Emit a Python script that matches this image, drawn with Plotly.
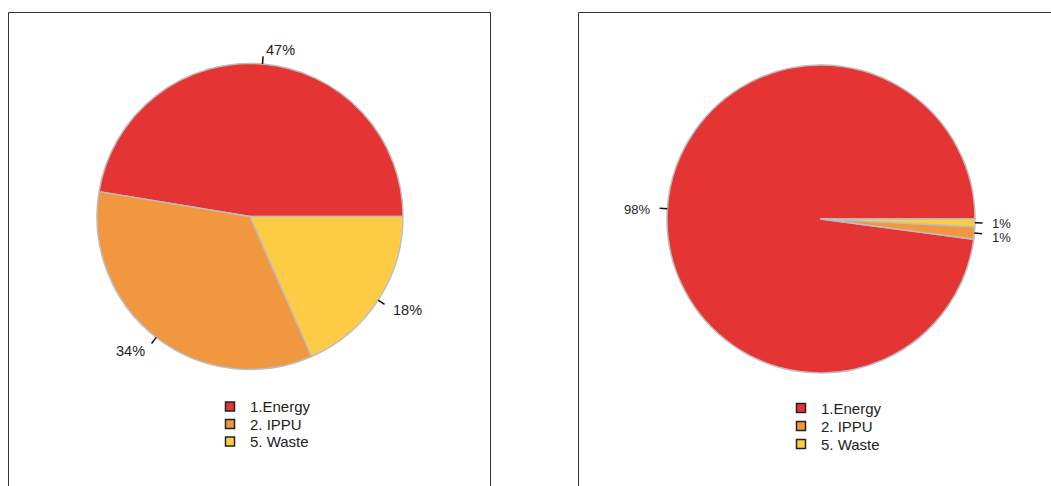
import math
import plotly.graph_objects as go

categories = ["1.Energy", "2. IPPU", "5. Waste"]
left_values = [47.4, 34.2, 18.4]
right_values = [97.9, 1.3, 0.8]
colors = ["#E53434", "#F1973F", "#FECC44"]

W, H = 1051, 486

# pie geometry in pixels (center x, center y from top, radius)
LEFT = dict(cx=250, cy=216.5, r=153, fs=14.5)
RIGHT = dict(cx=821, cy=219, r=154, fs=13)
LABEL_DY = 1.5


def px(x):
    return x / W


def py(y):
    return (H - y) / H


fig = go.Figure()


def add_pie(values, g):
    total = sum(values)
    # plotly places the first slice so that it ENDS at `rotation` when counterclockwise;
    # shift so that the first slice starts at 3 o'clock and runs counterclockwise
    rot = 90 - 360 * values[0] / total
    fig.add_trace(go.Pie(
        labels=categories,
        values=values,
        sort=False,
        direction="counterclockwise",
        rotation=rot,
        marker=dict(colors=colors, line=dict(color="#BDBDBD", width=1.5)),
        textinfo="none",
        hoverinfo="label+percent",
        showlegend=False,
        domain=dict(x=[px(g["cx"] - g["r"]), px(g["cx"] + g["r"])],
                    y=[py(g["cy"] + g["r"]), py(g["cy"] - g["r"])]),
    ))
    cum = 0.0
    labels = []
    for v in values:
        mid = (cum + v / 2) / total * 2 * math.pi
        cum += v
        c, s = math.cos(mid), math.sin(mid)
        x0, y0 = g["cx"] + g["r"] * c, g["cy"] - g["r"] * s
        x1, y1 = g["cx"] + g["r"] * 1.05 * c, g["cy"] - g["r"] * 1.05 * s
        xt, yt = g["cx"] + g["r"] * 1.1 * c, g["cy"] - g["r"] * 1.1 * s + LABEL_DY
        fig.add_shape(type="line", xref="paper", yref="paper",
                      x0=px(x0), y0=py(y0), x1=px(x1), y1=py(y1),
                      line=dict(color="#111", width=1.5))
        labels.append([xt, yt, c >= 0, f"{round(v / total * 100)}%"])
    # keep close labels on the same side apart
    min_gap = g["fs"] + 0.5
    for i in range(len(labels)):
        for j in range(i + 1, len(labels)):
            a, b = labels[i], labels[j]
            if a[2] == b[2] and abs(a[1] - b[1]) < min_gap:
                mid_y = (a[1] + b[1]) / 2
                lo, hi = (a, b) if a[1] < b[1] else (b, a)
                lo[1] = mid_y - min_gap / 2
                hi[1] = mid_y + min_gap / 2
    for xt, yt, right, txt in labels:
        fig.add_annotation(xref="paper", yref="paper", x=px(xt), y=py(yt),
                           text=txt, showarrow=False,
                           xanchor="left" if right else "right", yanchor="middle",
                           font=dict(family="Liberation Sans, Arial", size=g["fs"], color="#222"))


def add_legend(x_sq, y_first, x_text, step):
    for i, (lab, col) in enumerate(zip(categories, colors)):
        y = y_first + i * step
        fig.add_shape(type="rect", xref="paper", yref="paper",
                      x0=px(x_sq - 4.5), x1=px(x_sq + 4.5), y0=py(y + 4.5), y1=py(y - 4.5),
                      fillcolor=col, line=dict(color="#222", width=1.5))
        fig.add_annotation(xref="paper", yref="paper", x=px(x_text), y=py(y),
                           text=lab, showarrow=False, xanchor="left", yanchor="middle",
                           font=dict(family="Liberation Sans, Arial", size=15, color="#222"))


add_pie(left_values, LEFT)
add_pie(right_values, RIGHT)
add_legend(230, 406.5, 248, 17.5)
add_legend(801, 408, 819, 18)

# panel borders
border = dict(color="#333", width=1)
for x0, y0, x1, y1 in [(8.5, 12.5, 490.5, 12.5), (8.5, 12.5, 8.5, 520), (490.5, 12.5, 490.5, 520),
                       (578.5, 12.5, 1060, 12.5), (578.5, 12.5, 578.5, 520)]:
    fig.add_shape(type="line", xref="paper", yref="paper",
                  x0=px(x0), y0=py(y0), x1=px(x1), y1=py(y1), line=border)

fig.update_layout(
    width=W, height=H,
    margin=dict(l=0, r=0, t=0, b=0),
    paper_bgcolor="white", plot_bgcolor="white",
    showlegend=False,
)

fig.write_html("out.html", config={"displayModeBar": False},
               post_script="document.body.style.margin='0';document.body.style.padding='0';")
